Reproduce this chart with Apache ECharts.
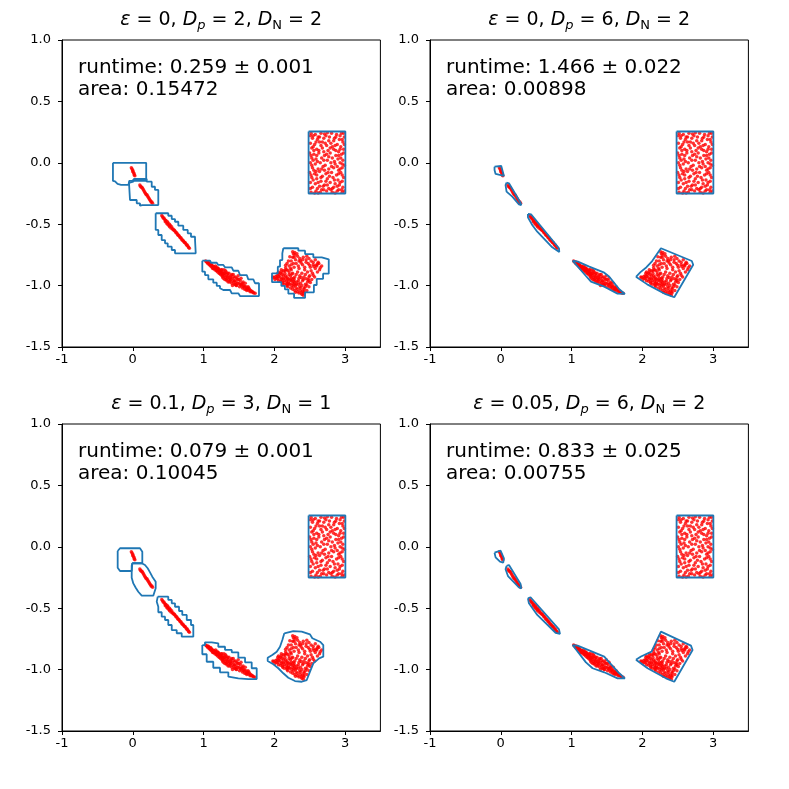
<!DOCTYPE html>
<html lang="en">

<head>
    <meta charset="UTF-8">
    <title>Enclosing regions</title>
    <script src="https://cdn.jsdelivr.net/npm/echarts@6/dist/echarts.min.js"></script>
</head>

<body style="margin:0;background:#fff;">
    <div id="demo1" style="width: 789px;height: 789px;"></div>

    <script>
        // tick labels
        const xTicks = [-1, 0, 1, 2, 3];
        const yTicks = [-1.5, -1.0, -0.5, 0.0, 0.5, 1.0];

        // panel texts
        const titles = [
            '{i|ε} = 0, {i|D}{s|p} = 2, {i|D}{n|N} = 2',
            '{i|ε} = 0, {i|D}{s|p} = 6, {i|D}{n|N} = 2',
            '{i|ε} = 0.1, {i|D}{s|p} = 3, {i|D}{n|N} = 1',
            '{i|ε} = 0.05, {i|D}{s|p} = 6, {i|D}{n|N} = 2'
        ];
        const runtimes = ['runtime: 0.259 ± 0.001', 'runtime: 1.466 ± 0.022', 'runtime: 0.079 ± 0.001', 'runtime: 0.833 ± 0.025'];
        const areas = ['area: 0.15472', 'area: 0.00898', 'area: 0.10045', 'area: 0.00755'];

        // red sample points (same in every panel)
        const piece1Pts = [[-0.02, -0.04], [-0.01, -0.05], [0.00, -0.06], [0.00, -0.07], [0.01, -0.08], [0.02, -0.09], [0.02, -0.10], [0.03, -0.105]];
        const piece2Pts = [[0.10, -0.18], [0.11, -0.19], [0.12, -0.20], [0.13, -0.20], [0.14, -0.21], [0.15, -0.22], [0.16, -0.23], [0.17, -0.24],
            [0.18, -0.25], [0.19, -0.26], [0.20, -0.26], [0.21, -0.27], [0.22, -0.28], [0.23, -0.29], [0.24, -0.30], [0.25, -0.31],
            [0.26, -0.32], [0.27, -0.32], [0.28, -0.33]];
        const piece3Pts = [[0.41, -0.43], [0.42, -0.44], [0.43, -0.45], [0.44, -0.45], [0.45, -0.46], [0.46, -0.47], [0.46, -0.48], [0.47, -0.47],
            [0.48, -0.49], [0.49, -0.48], [0.49, -0.50], [0.50, -0.49], [0.51, -0.51], [0.52, -0.50], [0.52, -0.52], [0.53, -0.51],
            [0.54, -0.53], [0.55, -0.52], [0.56, -0.54], [0.57, -0.54], [0.58, -0.55], [0.59, -0.55], [0.60, -0.56], [0.61, -0.57],
            [0.62, -0.57], [0.63, -0.58], [0.64, -0.59], [0.65, -0.59], [0.66, -0.60], [0.67, -0.61], [0.68, -0.61], [0.69, -0.62],
            [0.70, -0.63], [0.71, -0.63], [0.72, -0.64], [0.73, -0.65], [0.74, -0.65], [0.75, -0.66], [0.76, -0.67], [0.77, -0.67],
            [0.78, -0.68], [0.79, -0.69], [0.80, -0.695]];
        const piece4Pts = [[1.03, -0.80], [1.05, -0.81], [1.06, -0.82], [1.08, -0.82], [1.09, -0.83], [1.10, -0.84], [1.11, -0.83], [1.12, -0.85],
            [1.13, -0.84], [1.14, -0.86], [1.15, -0.85], [1.16, -0.87], [1.17, -0.86], [1.18, -0.88], [1.19, -0.87], [1.20, -0.89],
            [1.21, -0.86], [1.22, -0.90], [1.23, -0.88], [1.24, -0.91], [1.25, -0.87], [1.26, -0.92], [1.27, -0.89], [1.28, -0.94],
            [1.29, -0.90], [1.30, -0.92], [1.31, -0.88], [1.32, -0.95], [1.33, -0.91], [1.34, -0.93], [1.35, -0.97], [1.36, -0.90],
            [1.37, -0.94], [1.38, -0.96], [1.39, -0.92], [1.40, -0.98], [1.41, -0.94], [1.42, -0.91], [1.43, -0.96], [1.44, -0.99],
            [1.45, -0.93], [1.46, -0.97], [1.47, -1.00], [1.48, -0.95], [1.49, -0.92], [1.50, -0.98], [1.51, -1.01], [1.52, -0.96],
            [1.53, -0.94], [1.54, -0.99], [1.55, -1.02], [1.56, -0.97], [1.57, -1.00], [1.58, -1.03], [1.59, -0.98], [1.60, -1.01],
            [1.61, -1.04], [1.62, -1.02], [1.63, -1.01], [1.64, -1.04], [1.65, -1.03], [1.66, -1.05], [1.67, -1.04], [1.69, -1.05],
            [1.71, -1.06], [1.73, -1.062], [1.07, -0.81], [1.10, -0.82], [1.13, -0.86], [1.17, -0.84], [1.20, -0.86], [1.24, -0.89],
            [1.27, -0.91], [1.30, -0.95], [1.33, -0.94], [1.36, -0.95], [1.39, -0.95], [1.42, -0.97], [1.45, -0.99], [1.48, -0.98],
            [1.52, -0.99], [1.55, -0.98], [1.58, -1.01], [1.62, -1.03], [1.29, -0.87], [1.35, -0.92], [1.41, -1.00], [1.47, -0.94],
            [1.44, -0.96], [1.38, -0.93], [1.32, -0.89], [1.26, -0.90], [1.22, -0.87], [1.16, -0.85], [1.12, -0.84],
            [1.04, -0.805], [1.06, -0.81], [1.08, -0.83], [1.11, -0.835], [1.14, -0.845], [1.15, -0.86], [1.18, -0.86], [1.19, -0.88],
            [1.21, -0.88], [1.23, -0.90], [1.25, -0.89], [1.27, -0.93], [1.28, -0.91], [1.30, -0.90], [1.31, -0.93], [1.33, -0.96],
            [1.34, -0.90], [1.37, -0.97], [1.40, -0.91], [1.43, -0.93], [1.46, -1.00], [1.50, -0.95], [1.53, -1.00], [1.56, -1.01],
            [1.60, -1.03], [1.64, -1.02], [1.68, -1.05], [1.70, -1.055], [1.26, -0.87], [1.19, -0.85]];
        const blobPts = [[2.26, -0.725], [2.29, -0.73], [2.27, -0.74], [2.32, -0.74],
            [2.22, -0.765], [2.26, -0.77], [2.33, -0.76], [2.41, -0.77], [2.46, -0.76], [2.29, -0.75],
            [2.20, -0.80], [2.24, -0.80], [2.30, -0.79], [2.37, -0.80], [2.45, -0.79], [2.52, -0.80], [2.58, -0.79], [2.62, -0.81],
            [2.16, -0.835], [2.18, -0.82], [2.24, -0.83], [2.31, -0.82], [2.40, -0.83], [2.48, -0.82], [2.55, -0.83], [2.63, -0.82], [2.67, -0.84],
            [2.10, -0.87], [2.16, -0.855], [2.17, -0.87], [2.23, -0.86], [2.28, -0.85], [2.35, -0.86], [2.43, -0.87], [2.51, -0.85], [2.58, -0.86], [2.64, -0.87],
            [2.06, -0.89], [2.05, -0.90], [2.10, -0.89], [2.15, -0.90], [2.21, -0.89], [2.26, -0.90], [2.33, -0.89], [2.39, -0.90], [2.47, -0.89], [2.54, -0.90], [2.61, -0.89],
            [1.98, -0.93], [1.99, -0.935], [2.04, -0.92], [2.08, -0.93], [2.13, -0.92], [2.18, -0.93], [2.23, -0.92], [2.29, -0.93], [2.36, -0.92], [2.42, -0.93], [2.50, -0.92], [2.57, -0.93],
            [2.01, -0.95], [2.06, -0.96], [2.10, -0.95], [2.14, -0.96], [2.19, -0.95], [2.24, -0.96], [2.28, -0.95], [2.34, -0.96], [2.41, -0.95], [2.49, -0.96], [2.53, -0.95],
            [2.12, -0.98], [2.14, -0.99], [2.18, -0.98], [2.22, -0.99], [2.26, -0.98], [2.31, -0.99], [2.37, -0.98], [2.44, -0.99], [2.51, -0.975],
            [2.19, -1.01], [2.23, -1.02], [2.27, -1.01], [2.31, -1.02], [2.36, -1.01], [2.42, -1.02], [2.49, -1.01],
            [2.29, -1.04], [2.33, -1.05], [2.37, -1.04], [2.42, -1.05], [2.46, -1.04],
            [2.39, -1.07], [2.41, -1.078], [2.42, -1.06],
            [2.03, -0.94], [2.07, -0.91], [2.12, -0.97], [2.16, -0.94], [2.20, -0.97], [2.25, -1.00], [2.29, -0.97], [2.33, -1.03],
            [2.15, -0.88], [2.21, -0.91], [2.27, -0.94], [2.30, -1.00], [2.35, -0.94], [2.39, -1.00], [2.24, -0.87], [2.40, -0.96],
            [2.11, -0.91], [2.18, -0.99], [2.35, -1.06], [2.42, -1.03], [2.47, -0.97], [2.52, -0.88], [2.60, -0.84], [2.45, -0.81], [2.36, -0.78],
            [2.02, -0.925], [2.05, -0.945], [2.09, -0.965], [2.13, -0.945], [2.17, -0.965], [2.21, -0.985], [2.24, -0.94], [2.28, -0.99],
            [2.32, -0.97], [2.26, -1.03], [2.30, -1.055], [2.37, -1.02], [2.40, -1.045], [2.44, -1.01], [2.34, -0.99],
            [2.09, -0.90], [2.13, -0.88], [2.19, -0.875], [2.25, -0.905], [2.31, -0.91], [2.38, -0.935], [2.45, -0.945], [2.49, -0.93], [2.55, -0.915],
            [2.21, -0.84], [2.27, -0.82], [2.34, -0.84], [2.38, -0.815], [2.43, -0.85], [2.50, -0.835], [2.56, -0.845], [2.61, -0.825], [2.65, -0.855],
            [2.28, -0.77], [2.35, -0.80], [2.40, -0.79], [2.49, -0.78], [2.55, -0.81], [2.59, -0.835],
            [2.44, -0.91], [2.48, -0.95], [2.46, -0.995], [2.38, -1.06], [2.16, -0.92], [2.20, -0.945], [2.06, -0.925], [2.11, -0.94],
            [2.23, -0.955], [2.27, -0.965], [2.18, -1.00]];
        const rectPts = [[2.52, 0.24], [2.58, 0.23], [2.66, 0.24], [2.73, 0.22], [2.81, 0.24], [2.88, 0.23], [2.95, 0.24], [2.99, 0.21],
            [2.54, 0.20], [2.61, 0.19], [2.70, 0.20], [2.77, 0.18], [2.85, 0.20], [2.92, 0.19], [2.97, 0.17],
            [2.51, 0.16], [2.57, 0.15], [2.64, 0.17], [2.74, 0.14], [2.80, 0.16], [2.89, 0.15], [2.94, 0.13],
            [2.53, 0.12], [2.60, 0.11], [2.68, 0.12], [2.76, 0.10], [2.84, 0.11], [2.91, 0.09], [2.98, 0.11],
            [2.50, 0.08], [2.56, 0.07], [2.63, 0.08], [2.71, 0.06], [2.79, 0.08], [2.87, 0.06], [2.95, 0.07],
            [2.53, 0.04], [2.59, 0.03], [2.67, 0.04], [2.75, 0.02], [2.82, 0.04], [2.90, 0.03], [2.97, 0.02],
            [2.51, 0.00], [2.58, -0.01], [2.65, 0.00], [2.72, -0.02], [2.80, 0.00], [2.86, -0.01], [2.93, 0.00], [2.99, -0.02],
            [2.54, -0.04], [2.62, -0.05], [2.69, -0.03], [2.77, -0.05], [2.84, -0.04], [2.91, -0.06], [2.96, -0.04],
            [2.50, -0.08], [2.57, -0.09], [2.64, -0.07], [2.73, -0.09], [2.81, -0.08], [2.88, -0.10], [2.94, -0.08],
            [2.53, -0.12], [2.60, -0.13], [2.68, -0.11], [2.75, -0.13], [2.83, -0.12], [2.90, -0.14], [2.98, -0.12],
            [2.51, -0.16], [2.58, -0.17], [2.66, -0.15], [2.71, -0.18], [2.79, -0.16], [2.86, -0.17], [2.93, -0.16],
            [2.54, -0.20], [2.61, -0.21], [2.69, -0.19], [2.77, -0.21], [2.84, -0.20], [2.91, -0.22], [2.97, -0.20],
            [2.52, -0.24], [2.59, -0.23], [2.65, -0.24], [2.74, -0.23], [2.82, -0.24], [2.89, -0.23], [2.96, -0.24],
            [2.55, 0.22], [2.62, 0.21], [2.78, 0.21], [2.93, 0.22], [2.56, 0.10], [2.66, 0.14], [2.82, 0.13], [2.99, 0.15],
            [2.52, 0.06], [2.70, 0.09], [2.87, 0.10], [2.61, 0.01], [2.77, 0.05], [2.94, 0.04], [2.56, -0.06], [2.71, -0.06],
            [2.89, -0.03], [2.60, -0.10], [2.78, -0.11], [2.96, -0.10], [2.55, -0.14], [2.73, -0.15], [2.92, -0.18], [2.64, -0.19],
            [2.80, -0.22], [2.57, -0.245], [2.70, -0.22], [2.86, -0.245], [2.99, -0.23], [2.68, 0.17], [2.84, 0.18], [2.75, 0.245],
            [2.51, 0.22], [2.64, 0.21], [2.71, 0.235], [2.87, 0.21], [2.98, 0.24], [2.59, 0.17], [2.72, 0.16], [2.86, 0.14],
            [2.96, 0.19], [2.55, 0.13], [2.63, 0.10], [2.79, 0.12], [2.93, 0.11], [2.60, 0.06], [2.74, 0.07], [2.91, 0.06],
            [2.98, 0.08], [2.55, 0.02], [2.70, 0.02], [2.85, 0.01], [2.96, -0.01], [2.53, -0.02], [2.67, -0.05], [2.81, -0.03],
            [2.93, -0.05], [2.59, -0.07], [2.76, -0.08], [2.91, -0.09], [2.52, -0.10], [2.66, -0.12], [2.85, -0.14], [2.96, -0.15],
            [2.62, -0.16], [2.75, -0.18], [2.89, -0.19], [2.51, -0.21], [2.67, -0.22], [2.82, -0.21], [2.95, -0.22], [2.62, -0.245]];

        // outline polygons
        const rectBox = [[2.485, 0.255], [3.005, 0.255], [3.005, -0.25], [2.485, -0.25]];

        // eps = 0, Dp = 2
        const tlA = [[-0.28, 0.0], [0.19, 0.0], [0.19, -0.148], [-0.05, -0.148], [-0.06, -0.18], [-0.165, -0.18], [-0.18, -0.172], [-0.215, -0.172], [-0.25, -0.152], [-0.28, -0.148]];
        const tlB = [[0.008, -0.132], [0.163, -0.132], [0.197, -0.154], [0.268, -0.195], [0.314, -0.221], [0.361, -0.257], [0.361, -0.344], [0.135, -0.349],
            [0.102, -0.330], [0.078, -0.330], [0.056, -0.303], [-0.039, -0.295], [-0.053, -0.164], [-0.025, -0.154]];
        const tlC = [[0.324, -0.411], [0.470, -0.411], [0.502, -0.431], [0.551, -0.458], [0.597, -0.480], [0.644, -0.512], [0.714, -0.547], [0.777, -0.574],
            [0.823, -0.602], [0.880, -0.628], [0.890, -0.737], [0.635, -0.737], [0.597, -0.710], [0.551, -0.683], [0.494, -0.656], [0.456, -0.629],
            [0.409, -0.588], [0.361, -0.547], [0.324, -0.520]];
        const tlD = [[0.983, -0.797], [1.092, -0.797], [1.106, -0.814], [1.187, -0.814], [1.209, -0.832], [1.280, -0.832], [1.304, -0.851], [1.399, -0.859],
            [1.421, -0.879], [1.492, -0.887], [1.516, -0.914], [1.611, -0.922], [1.633, -0.949], [1.704, -0.954], [1.728, -0.981], [1.784, -0.989],
            [1.784, -1.085], [1.516, -1.085], [1.492, -1.063], [1.399, -1.058], [1.375, -1.036], [1.280, -1.022], [1.233, -1.003], [1.187, -0.976],
            [1.138, -0.949], [1.068, -0.914], [1.021, -0.887], [0.983, -0.859]];
        const tlE = [[2.128, -0.696], [2.340, -0.696], [2.340, -0.716], [2.435, -0.716], [2.435, -0.743], [2.552, -0.743], [2.552, -0.770], [2.671, -0.770],
            [2.671, -0.786], [2.770, -0.786], [2.770, -0.903], [2.690, -0.903], [2.690, -0.945], [2.600, -0.945], [2.600, -0.995], [2.560, -0.995],
            [2.560, -1.055], [2.435, -1.055], [2.435, -1.100], [2.280, -1.100], [2.280, -1.066], [2.199, -1.066], [2.199, -1.030], [2.150, -1.030],
            [2.150, -1.003], [2.100, -1.003], [2.100, -0.972], [1.968, -0.972], [1.968, -0.900], [2.050, -0.900], [2.050, -0.846], [2.081, -0.846],
            [2.081, -0.792], [2.114, -0.792], [2.114, -0.737], [2.128, -0.737]];

        // eps = 0, Dp = 6
        const trA = [[-0.088, -0.032], [0.007, -0.026], [0.045, -0.107], [0.021, -0.113], [-0.073, -0.091], [-0.088, -0.059]];
        const trB = [[0.082, -0.162], [0.116, -0.167], [0.280, -0.325], [0.290, -0.344], [0.257, -0.338], [0.163, -0.276], [0.082, -0.235], [0.068, -0.181]];
        const trC = [[0.384, -0.417], [0.431, -0.421], [0.823, -0.696], [0.827, -0.726], [0.728, -0.688], [0.516, -0.561], [0.445, -0.507], [0.384, -0.444]];
        const trD = [[1.015, -0.797], [1.09, -0.805], [1.251, -0.846], [1.463, -0.895], [1.534, -0.928], [1.675, -1.030], [1.755, -1.068], [1.65, -1.065],
            [1.463, -1.009], [1.275, -0.968], [1.204, -0.922]];
        const trE = [[1.911, -0.928], [1.975, -0.89], [2.06, -0.85], [2.14, -0.80], [2.264, -0.696], [2.70, -0.80], [2.72, -0.83], [2.452, -1.095],
            [2.33, -1.07], [2.07, -0.99]];

        // eps = 0.1, Dp = 3
        const blA = [[-0.213, -0.034], [-0.18, -0.012], [0.102, -0.012], [0.135, -0.04], [0.135, -0.134], [-0.006, -0.134], [-0.015, -0.197], [-0.18, -0.197], [-0.213, -0.17]];
        const blB = [[-0.006, -0.134], [0.127, -0.134], [0.173, -0.148], [0.211, -0.175], [0.244, -0.208], [0.276, -0.243], [0.324, -0.284], [0.324, -0.338],
            [0.290, -0.398], [0.127, -0.398], [0.078, -0.366], [0.042, -0.333], [0.008, -0.298], [-0.015, -0.252], [-0.015, -0.154]];
        const blC = [[0.353, -0.406], [0.456, -0.406], [0.502, -0.433], [0.551, -0.460], [0.597, -0.488], [0.654, -0.523], [0.700, -0.555], [0.763, -0.596],
            [0.823, -0.637], [0.856, -0.691], [0.856, -0.732], [0.763, -0.732], [0.692, -0.704], [0.621, -0.678], [0.551, -0.637], [0.502, -0.596],
            [0.456, -0.569], [0.409, -0.533], [0.361, -0.488], [0.339, -0.447]];
        const blD = [[0.983, -0.800], [1.021, -0.778], [1.116, -0.786], [1.209, -0.814], [1.304, -0.840], [1.399, -0.859], [1.492, -0.903], [1.587, -0.941],
            [1.681, -0.989], [1.752, -1.038], [1.752, -1.077], [1.633, -1.071], [1.492, -1.058], [1.351, -1.022], [1.233, -0.985], [1.138, -0.936],
            [1.045, -0.875], [0.983, -0.827]];
        const blE = [[2.142, -0.704], [2.269, -0.686], [2.388, -0.691], [2.505, -0.713], [2.538, -0.745], [2.647, -0.773], [2.693, -0.800], [2.693, -0.895],
            [2.633, -0.908], [2.552, -0.949], [2.505, -1.017], [2.459, -1.085], [2.388, -1.099], [2.293, -1.093], [2.199, -1.066], [2.128, -1.030],
            [2.057, -0.989], [1.987, -0.957], [1.907, -0.930], [1.907, -0.903], [1.972, -0.881], [2.035, -0.854], [2.081, -0.814], [2.114, -0.759]];

        // eps = 0.05, Dp = 6
        const brA = [[-0.088, -0.048], [-0.003, -0.032], [0.045, -0.094], [0.035, -0.129], [-0.011, -0.121], [-0.073, -0.086]];
        const brB = [[0.082, -0.156], [0.116, -0.148], [0.280, -0.303], [0.290, -0.338], [0.257, -0.330], [0.102, -0.238], [0.068, -0.183]];
        const brC = [[0.384, -0.419], [0.421, -0.411], [0.823, -0.672], [0.837, -0.710], [0.775, -0.700], [0.516, -0.555], [0.398, -0.460]];
        const brD = [[1.015, -0.800], [1.086, -0.805], [1.463, -0.895], [1.534, -0.941], [1.675, -1.030], [1.755, -1.071], [1.651, -1.071], [1.463, -1.022],
            [1.298, -0.989], [1.204, -0.941]];
        const brE = [[1.911, -0.920], [1.982, -0.893], [2.131, -0.854], [2.264, -0.691], [2.688, -0.805], [2.711, -0.840], [2.452, -1.099], [2.335, -1.071],
            [2.075, -0.989]];

        const outlines = [
            [tlA, tlB, tlC, tlD, tlE, rectBox],
            [trA, trB, trC, trD, trE, rectBox],
            [blA, blB, blC, blD, blE, rectBox],
            [brA, brB, brC, brD, brE, rectBox]
        ];
        // staircase drawing per outline (false = straight segments)
        const outlineSteps = [
            [false, 'end', 'end', 'end', false, false],
            [false, false, false, false, false, false],
            [false, false, 'end', 'end', false, false],
            [false, false, false, false, false, false]
        ];

        const allPts = [].concat(piece1Pts, piece2Pts, piece3Pts, piece4Pts, blobPts, rectPts);

        // layout of the four axes
        const gridPos = [
            { left: 62, top: 40 },
            { left: 430, top: 40 },
            { left: 62, top: 424 },
            { left: 430, top: 424 }
        ];
        const gridW = 318.4;
        const gridH = 307;

        let myChart = echarts.init(document.getElementById('demo1'));

        let grids = [], xAxes = [], yAxes = [], series = [], graphics = [];
        const font = 'DejaVu Sans';

        gridPos.forEach((g, i) => {
            grids.push({
                left: g.left, top: g.top, width: gridW, height: gridH,
                show: true, borderColor: '#000', borderWidth: 1, backgroundColor: 'transparent'
            });
            xAxes.push({
                gridIndex: i, type: 'value', min: -1, max: 3.5,
                axisLine: { show: true, onZero: false, lineStyle: { color: '#000', width: 1 } },
                axisTick: { show: true, length: 4, customValues: xTicks, lineStyle: { color: '#000' } },
                axisLabel: {
                    customValues: xTicks, color: '#000', fontSize: 13, fontFamily: font, margin: 6,
                    formatter: v => String(v)
                },
                splitLine: { show: false }
            });
            yAxes.push({
                gridIndex: i, type: 'value', min: -1.5, max: 1,
                axisLine: { show: true, onZero: false, lineStyle: { color: '#000', width: 1 } },
                axisTick: { show: true, length: 4, customValues: yTicks, lineStyle: { color: '#000' } },
                axisLabel: {
                    customValues: yTicks, color: '#000', fontSize: 13, fontFamily: font, margin: 11,
                    formatter: v => Number(v).toFixed(1)
                },
                splitLine: { show: false }
            });

            series.push({
                type: 'scatter', xAxisIndex: i, yAxisIndex: i, data: allPts,
                symbolSize: 3.5, itemStyle: { color: '#ff0000' }, silent: true, z: 2
            });

            outlines[i].forEach((poly, k) => {
                let closed = poly.concat([poly[0]]);
                series.push({
                    type: 'line', xAxisIndex: i, yAxisIndex: i, data: closed,
                    symbol: 'none', step: outlineSteps[i][k],
                    lineStyle: { color: '#1f77b4', width: 1.8 }, silent: true, z: 3
                });
            });

            // title
            graphics.push({
                type: 'text', x: g.left + gridW / 2, y: g.top - 20,
                style: {
                    text: titles[i], textAlign: 'center', textVerticalAlign: 'middle',
                    font: '19px "DejaVu Sans"', fill: '#000', lineHeight: 24,
                    rich: {
                        i: { fontStyle: 'italic', fontSize: 19, fontFamily: font, lineHeight: 24 },
                        s: { fontStyle: 'italic', fontSize: 13, fontFamily: font, verticalAlign: 'bottom', lineHeight: 10 },
                        n: { fontSize: 13, fontFamily: font, verticalAlign: 'bottom', lineHeight: 10 }
                    }
                }
            });
            // runtime and area
            graphics.push({
                type: 'text', x: g.left + 16, y: g.top + 28,
                style: { text: runtimes[i], textVerticalAlign: 'middle', font: '20px "DejaVu Sans"', fill: '#000' }
            });
            graphics.push({
                type: 'text', x: g.left + 16, y: g.top + 50,
                style: { text: areas[i], textVerticalAlign: 'middle', font: '20px "DejaVu Sans"', fill: '#000' }
            });
        });

        let option = {
            animation: false,
            backgroundColor: '#fff',
            grid: grids,
            xAxis: xAxes,
            yAxis: yAxes,
            series: series,
            graphic: { elements: graphics }
        };

        myChart.setOption(option);
    </script>
</body>

</html>
